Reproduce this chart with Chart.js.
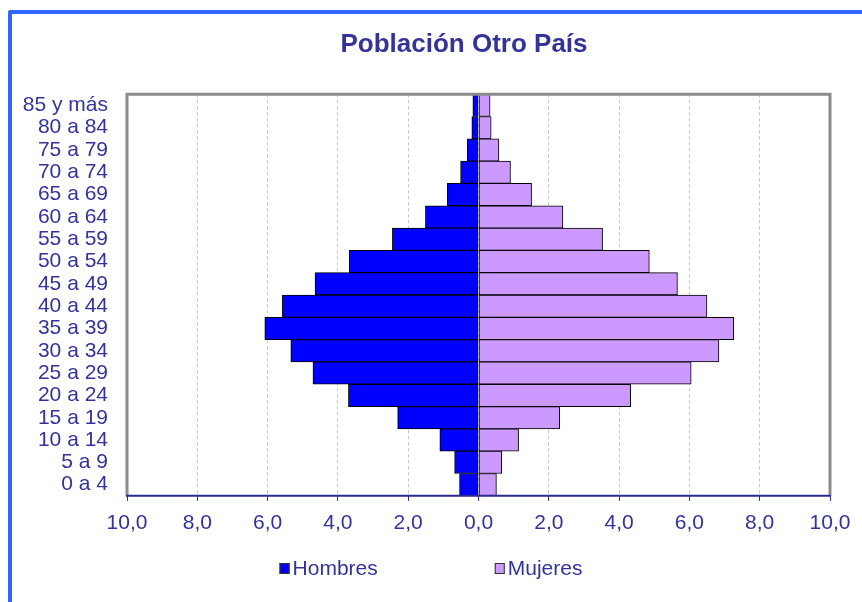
<!DOCTYPE html>
<html>
<head>
<meta charset="utf-8">
<script src="https://cdn.jsdelivr.net/npm/chart.js@4.4.0/dist/chart.umd.min.js"></script>
<style>
  html, body { margin: 0; padding: 0; background: #fff; overflow: hidden; }
  #wrap { position: relative; width: 862px; height: 602px; }
  #marco {
    position: absolute; left: 8px; top: 10px; width: 1000px; height: 800px;
    border-left: 4px solid #3366ff; border-top: 4px solid #3366ff;
    border-top-left-radius: 3px;
  }
  #piramide { position: absolute; left: 0; top: 0; }
</style>
</head>
<body>
<div id="wrap">
  <div id="marco"></div>
  <canvas id="piramide" width="862" height="602"></canvas>
</div>
<script>
const edades = ['85 y más', '80 a 84', '75 a 79', '70 a 74', '65 a 69', '60 a 64',
  '55 a 59', '50 a 54', '45 a 49', '40 a 44', '35 a 39', '30 a 34',
  '25 a 29', '20 a 24', '15 a 19', '10 a 14', '5 a 9', '0 a 4'];
const hombres = [0.16, 0.19, 0.32, 0.51, 0.89, 1.51, 2.45, 3.68, 4.65, 5.58,
  6.08, 5.34, 4.71, 3.70, 2.30, 1.10, 0.68, 0.54];
const mujeres = [0.33, 0.36, 0.58, 0.91, 1.51, 2.40, 3.53, 4.86, 5.66, 6.50,
  7.26, 6.84, 6.05, 4.33, 2.31, 1.14, 0.66, 0.51];
const escalaMin = -10;
const escalaMax = 10;
const paso = 2;

const fuente = "'Liberation Sans', Arial, sans-serif";
const azulTexto = '#333399';

// el titulo del original no esta centrado en el lienzo, se desplaza a la derecha
const tituloPlugin = {
  id: 'tituloDesplazado',
  afterLayout(chart) {
    const t = chart.titleBlock;
    if (!t) return;
    t.left = 98;
    t.right = chart.chartArea.right;
  }
};

// marco gris del area de trazado y eje inferior azul
const marcoPlugin = {
  id: 'marco',
  afterDatasetsDraw(chart) {
    const { ctx, chartArea: a } = chart;
    ctx.save();
    ctx.lineWidth = 3;
    ctx.strokeStyle = '#8c8c8c';
    ctx.beginPath();
    ctx.moveTo(a.left, a.bottom);
    ctx.lineTo(a.left, a.top);
    ctx.lineTo(a.right, a.top);
    ctx.lineTo(a.right, a.bottom);
    ctx.stroke();
    ctx.lineWidth = 2;
    ctx.strokeStyle = '#2b2b8f';
    ctx.beginPath();
    ctx.moveTo(a.left - 1, a.bottom);
    ctx.lineTo(a.right + 1, a.bottom);
    ctx.stroke();
    ctx.restore();
  }
};

// leyenda con mas separacion entre elementos que la de Chart.js
const leyendaPlugin = {
  id: 'leyenda',
  afterDraw(chart) {
    const { ctx } = chart;
    const caja = 10, hueco = 3, separacion = 117;
    const y = 569;
    ctx.save();
    ctx.font = '21px ' + fuente;
    ctx.textBaseline = 'middle';
    const items = chart.data.datasets.map(ds => ({
      texto: ds.label, color: ds.backgroundColor, ancho: ctx.measureText(ds.label).width
    }));
    let total = 0;
    items.forEach((it, i) => {
      total += caja + hueco + it.ancho + (i < items.length - 1 ? separacion : 0);
    });
    let x = chart.width / 2 - total / 2;
    items.forEach(it => {
      ctx.fillStyle = it.color;
      ctx.fillRect(x, y - 6, caja, 11);
      ctx.strokeStyle = '#333';
      ctx.lineWidth = 1;
      ctx.strokeRect(x + 0.5, y - 5.5, caja - 1, 10);
      ctx.fillStyle = azulTexto;
      ctx.fillText(it.texto, x + caja + hueco, y);
      x += caja + hueco + it.ancho + separacion;
    });
    ctx.restore();
  }
};

new Chart(document.getElementById('piramide'), {
  type: 'bar',
  data: {
    labels: edades,
    datasets: [
      {
        label: 'Hombres',
        data: hombres.map(v => -v),
        backgroundColor: '#0000ff',
        borderColor: '#000000',
        borderWidth: 1,
        borderSkipped: false,
        barPercentage: 1,
        categoryPercentage: 1
      },
      {
        label: 'Mujeres',
        data: mujeres,
        backgroundColor: '#cc99ff',
        borderColor: '#000000',
        borderWidth: 1,
        borderSkipped: false,
        barPercentage: 1,
        categoryPercentage: 1
      }
    ]
  },
  options: {
    indexAxis: 'y',
    responsive: false,
    animation: false,
    devicePixelRatio: 1,
    layout: { padding: { left: 0, right: 32, top: 10, bottom: 56 } },
    plugins: {
      legend: { display: false },
      tooltip: { enabled: false },
      title: {
        display: true,
        text: 'Población Otro País',
        color: azulTexto,
        font: { family: fuente, size: 26, weight: 'bold' },
        padding: { top: 19, bottom: 34 }
      }
    },
    scales: {
      x: {
        stacked: true,
        min: escalaMin,
        max: escalaMax,
        border: { display: false, dash: [3, 3] },
        grid: {
          color: '#c4c4c4',
          lineWidth: 1,
          drawTicks: true,
          tickLength: 5,
          tickColor: '#2b2b8f',
          tickWidth: 1
        },
        ticks: {
          stepSize: paso,
          padding: 10,
          color: azulTexto,
          font: { family: fuente, size: 21 },
          maxRotation: 0,
          callback: v => Math.abs(v).toFixed(1).replace('.', ',')
        }
      },
      y: {
        stacked: true,
        grid: { display: false, drawTicks: false },
        border: { display: false },
        ticks: {
          padding: 19,
          color: azulTexto,
          font: { family: fuente, size: 21 },
          autoSkip: false
        },
        afterFit(scale) { scale.width = 127; }
      }
    }
  },
  plugins: [tituloPlugin, marcoPlugin, leyendaPlugin]
});
</script>
</body>
</html>
